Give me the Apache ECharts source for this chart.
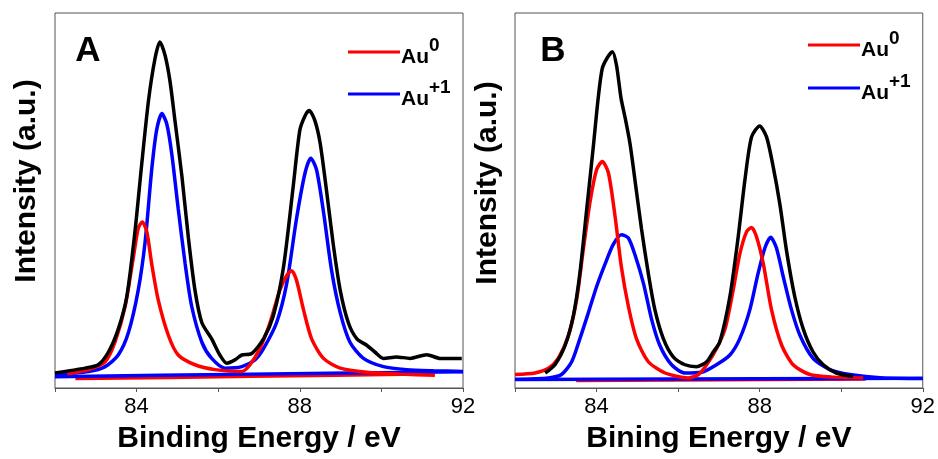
<!DOCTYPE html>
<html>
<head>
<meta charset="utf-8">
<script src="https://cdn.jsdelivr.net/npm/echarts@6/dist/echarts.min.js"></script>
<style>
    html, body { margin: 0; padding: 0; background: #fff; }
    #chart { width: 938px; height: 459px; }
</style>
</head>
<body>
<div id="chart"></div>
<script>
// x ticks (binding energy, eV)
const xTicks = [84, 88, 92];

// panel A: [eV, intensity] points
const aEnvelope = [
    [82.0, 4.0], [82.74, 5.3], [83.06, 6.2], [83.31, 9.6], [83.55, 15.7], [83.76, 24.4],
    [83.96, 41.7], [84.12, 59.1], [84.29, 76.5], [84.45, 87.8], [84.57, 92.3], [84.70, 88.6],
    [84.82, 81.7], [84.94, 71.3], [85.11, 56.5], [85.27, 40.0], [85.43, 26.1], [85.60, 17.4],
    [85.84, 13.1], [86.04, 8.8], [86.21, 6.6], [86.41, 7.5], [86.58, 8.8], [86.82, 9.2],
    [87.11, 13.1], [87.35, 19.2], [87.60, 32.2], [87.84, 53.9], [88.00, 68.7], [88.13, 72.6],
    [88.23, 74.0], [88.37, 71.3], [88.50, 65.2], [88.66, 52.2], [88.82, 38.3], [88.99, 26.1],
    [89.19, 17.4], [89.40, 13.1], [89.64, 11.4], [89.84, 9.6], [90.05, 7.9], [90.37, 8.3],
    [90.70, 7.9], [91.11, 8.9], [91.44, 7.9], [91.97, 7.9]
];
const aAu1 = [
    [82.0, 3.6], [82.82, 4.4], [83.23, 5.7], [83.55, 8.8], [83.80, 14.8], [84.04, 26.1],
    [84.21, 39.1], [84.37, 58.2], [84.49, 68.7], [84.62, 73.2], [84.74, 70.4], [84.86, 62.6],
    [85.02, 47.8], [85.19, 33.1], [85.35, 21.8], [85.60, 12.2], [85.84, 7.9], [86.17, 5.3],
    [86.58, 5.7], [86.90, 7.5], [87.11, 10.5], [87.43, 17.4], [87.68, 27.9], [87.92, 45.2],
    [88.13, 57.4], [88.27, 61.3], [88.41, 58.2], [88.58, 47.0], [88.78, 31.3], [88.99, 20.1],
    [89.23, 12.2], [89.56, 7.9], [90.05, 5.7], [90.62, 4.9], [91.27, 4.6], [92.0, 4.4]
];
const aAu0 = [
    [82.3, 3.8], [82.82, 4.9], [83.23, 7.0], [83.47, 12.2], [83.72, 21.8], [83.92, 34.8],
    [84.04, 42.6], [84.14, 44.3], [84.25, 41.7], [84.37, 33.1], [84.53, 23.5], [84.78, 14.0],
    [85.02, 8.8], [85.43, 6.2], [85.92, 4.9], [86.58, 4.4], [86.78, 6.2], [87.02, 10.5],
    [87.27, 17.4], [87.51, 26.1], [87.68, 30.0], [87.80, 31.3], [87.92, 28.7], [88.09, 20.9],
    [88.29, 13.1], [88.58, 7.9], [88.99, 5.3], [89.64, 4.2], [90.46, 3.7], [91.31, 3.4]
];
const aBaseAu1 = [[82.0, 3.0], [86.8, 3.7], [92.0, 4.3]];
const aBaseAu0 = [[82.5, 2.5], [86.8, 3.1], [91.3, 3.8]];

// panel B
const bEnvelope = [
    [82.74, 4.0], [82.98, 6.2], [83.23, 11.4], [83.43, 19.2], [83.59, 30.5], [83.76, 47.8],
    [83.92, 64.3], [84.04, 77.3], [84.14, 85.2], [84.27, 88.2], [84.39, 89.7], [84.49, 86.0],
    [84.60, 77.3], [84.70, 72.1], [84.82, 65.2], [84.94, 55.6], [85.10, 42.6], [85.27, 30.5],
    [85.43, 20.9], [85.64, 13.1], [85.88, 8.3], [86.17, 6.2], [86.45, 5.7], [86.70, 7.0],
    [86.86, 9.6], [87.02, 12.2], [87.27, 24.4], [87.47, 40.0], [87.64, 55.6], [87.80, 66.9],
    [88.00, 69.9], [88.17, 66.9], [88.33, 59.1], [88.50, 48.7], [88.66, 36.5], [88.86, 24.4],
    [89.07, 15.7], [89.31, 9.6], [89.56, 6.2], [89.88, 4.0], [90.29, 3.1]
];
const bAu0 = [
    [82.0, 3.6], [82.49, 4.0], [82.82, 5.3], [83.06, 7.9], [83.31, 14.0], [83.51, 23.5],
    [83.67, 36.5], [83.84, 49.6], [84.00, 58.2], [84.14, 60.4], [84.29, 57.4], [84.45, 46.1],
    [84.61, 32.2], [84.78, 21.8], [84.98, 13.1], [85.27, 7.0], [85.68, 4.0], [86.25, 2.7],
    [86.50, 3.6], [86.70, 6.2], [86.94, 10.5], [87.15, 15.7], [87.35, 26.1], [87.51, 35.6],
    [87.68, 41.7], [87.80, 42.8], [87.92, 40.4], [88.09, 33.1], [88.29, 20.9], [88.54, 11.4],
    [88.82, 6.2], [89.23, 3.6], [89.80, 2.9], [90.54, 2.7]
];
const bAu1 = [
    [82.0, 2.3], [82.82, 2.7], [83.14, 3.6], [83.39, 7.0], [83.59, 13.1], [83.80, 20.1],
    [84.00, 27.0], [84.21, 33.1], [84.41, 38.3], [84.61, 40.9], [84.78, 40.0], [84.94, 35.6],
    [85.15, 27.9], [85.35, 18.3], [85.55, 11.4], [85.84, 6.2], [86.17, 4.0], [86.58, 4.2],
    [86.94, 6.2], [87.27, 8.8], [87.51, 13.1], [87.76, 20.9], [87.96, 30.5], [88.13, 37.4],
    [88.27, 40.2], [88.41, 37.4], [88.58, 29.6], [88.78, 20.9], [88.99, 14.0], [89.31, 7.9],
    [89.72, 4.9], [90.21, 3.6], [91.03, 2.7], [92.0, 2.5]
];
const bBaseAu1 = [[82.0, 2.3], [92.0, 2.6]];
const bBaseAu0 = [[83.5, 2.0], [90.6, 2.4]];

const RED = '#ff0000';
const BLUE = '#0000ff';
const FRAME = '#555';
const FONT = 'Liberation Sans, Arial, sans-serif';

const chart = echarts.init(document.getElementById('chart'));

function line(name, data, color, idx) {
    return {
        name,
        type: 'line',
        data,
        xAxisIndex: idx,
        yAxisIndex: idx,
        showSymbol: false,
        silent: true,
        smooth: 0.25,
        lineStyle: { color, width: 3.5 },
        itemStyle: { color },
        z: 2
    };
}

function xAxis(idx, title) {
    return {
        type: 'value',
        gridIndex: idx,
        min: 82,
        max: 92,
        interval: 2,
        name: title,
        nameLocation: 'middle',
        nameGap: 36,
        nameTextStyle: { fontFamily: FONT, fontSize: 30, fontWeight: 'bold', color: '#000' },
        axisLine: { lineStyle: { color: FRAME, width: 1 } },
        axisTick: { inside: false, length: 4, lineStyle: { color: FRAME } },
        axisLabel: {
            fontFamily: FONT, fontSize: 22, color: '#000', margin: 8,
            formatter: v => (xTicks.indexOf(v) >= 0 ? String(v) : '')
        },
        splitLine: { show: false }
    };
}

function yAxis(idx) {
    return {
        type: 'value',
        gridIndex: idx,
        min: 0,
        max: 100,
        axisLine: { show: false },
        axisTick: { show: false },
        axisLabel: { show: false },
        splitLine: { show: false }
    };
}

function legend(left, top, gap) {
    return {
        orient: 'vertical',
        left,
        top,
        data: ['Au0', 'Au+1'],
        icon: 'rect',
        itemWidth: 52,
        itemHeight: 3,
        itemGap: gap,
        selectedMode: false,
        formatter: n => (n === 'Au0' ? '{b|Au}{s|0}' : '{b|Au}{s|+1}'),
        textStyle: {
            padding: [0, 0, 0, -4],
            rich: {
                b: { fontFamily: FONT, fontSize: 21, fontWeight: 'bold', color: '#000', verticalAlign: 'bottom' },
                s: { fontFamily: FONT, fontSize: 19, fontWeight: 'bold', color: '#000', verticalAlign: 'bottom', padding: [0, 0, 13, 0] }
            }
        }
    };
}

function vTitle(text, x, y) {
    return {
        type: 'text',
        x, y,
        rotation: Math.PI / 2,
        style: {
            text, fill: '#000', font: 'bold 30px ' + FONT,
            textAlign: 'center', textVerticalAlign: 'middle'
        }
    };
}

function letter(text, x, y) {
    return {
        type: 'text',
        x, y,
        style: {
            text, fill: '#000', font: 'bold 35px ' + FONT,
            textAlign: 'center', textVerticalAlign: 'middle'
        }
    };
}

chart.setOption({
    backgroundColor: '#fff',
    animation: false,
    grid: [
        { left: 55, top: 13, width: 408, height: 384, show: true, borderColor: FRAME, borderWidth: 1 },
        { left: 515, top: 13, width: 408, height: 384, show: true, borderColor: FRAME, borderWidth: 1 }
    ],
    xAxis: [xAxis(0, 'Binding Energy / eV'), xAxis(1, 'Bining Energy / eV')],
    yAxis: [yAxis(0), yAxis(1)],
    legend: [legend(343, 31, 10), legend(803, 24, 11)],
    graphic: [
        vTitle('Intensity (a.u.)', 27, 181),
        vTitle('Intensity (a.u.)', 488, 183),
        letter('A', 88, 51),
        letter('B', 553, 51)
    ],
    series: [
        line('base0a', aBaseAu0, RED, 0),
        line('base1a', aBaseAu1, BLUE, 0),
        line('Au+1', aAu1, BLUE, 0),
        line('Au0', aAu0, RED, 0),
        line('envA', aEnvelope, '#000', 0),
        line('base0b', bBaseAu0, RED, 1),
        line('base1b', bBaseAu1, BLUE, 1),
        line('Au+1', bAu1, BLUE, 1),
        line('Au0', bAu0, RED, 1),
        line('envB', bEnvelope, '#000', 1)
    ]
});
</script>
</body>
</html>
